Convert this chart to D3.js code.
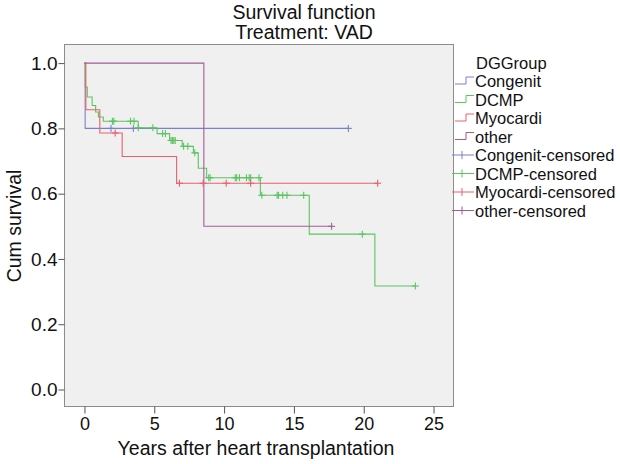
<!DOCTYPE html>
<html>
<head>
<meta charset="utf-8">
<script src="https://cdn.jsdelivr.net/npm/d3@7"></script>
<style>
  body { margin: 0; background: #fff; }
  text { font-family: "Liberation Sans", Arial, sans-serif; fill: #111; }
</style>
</head>
<body>
<div id="svg-area"></div>
<script>
var svgWidth = 620;
var svgHeight = 464;

// group names and colours
var groups = ["Congenit", "DCMP", "Myocardi", "other"];
var colors = ["#7880d2", "#5cc462", "#e8616a", "#a25b98"];

// event times and survival after each drop
var congenitTimes = [0.05];
var congenitSurv = [0.80];
var congenitCensor = [1.9, 3.5, 18.9];

var dcmpTimes = [0.05, 0.2, 0.55, 0.8, 1.0, 1.35, 3.85, 5.2, 6.1, 7.0, 7.8, 8.15, 8.75, 12.6, 16.1, 20.8];
var dcmpSurv = [0.927, 0.896, 0.870, 0.850, 0.835, 0.822, 0.802, 0.784, 0.763, 0.745, 0.725, 0.678, 0.649, 0.595, 0.476, 0.317];
var dcmpCensor = [2.0, 2.1, 3.3, 3.55, 3.85, 4.9, 5.6, 5.8, 6.2, 6.3, 6.4, 6.5, 7.1, 7.4, 7.9,
  8.9, 9.0, 10.8, 10.9, 11.1, 11.6, 11.8, 11.9, 12.5, 12.7, 13.8, 13.9, 14.2, 14.5, 15.7, 19.9, 23.7];

var myoTimes = [0.1, 1.1, 2.7, 6.6];
var myoSurv = [0.857, 0.786, 0.714, 0.632];
var myoCensor = [2.2, 6.8, 8.5, 10.15, 11.9, 21.0];

var otherTimes = [8.55];
var otherSurv = [0.50];
var otherCensor = [17.7];

var xTicks = [0, 5, 10, 15, 20, 25];
var yTicks = [0, 0.2, 0.4, 0.6, 0.8, 1.0];

var series = [
  {times: congenitTimes, surv: congenitSurv, censor: congenitCensor},
  {times: dcmpTimes, surv: dcmpSurv, censor: dcmpCensor},
  {times: myoTimes, surv: myoSurv, censor: myoCensor},
  {times: otherTimes, surv: otherSurv, censor: otherCensor}
];

var svg = d3.select("#svg-area")
  .append("svg")
  .attr("width", svgWidth)
  .attr("height", svgHeight);

var plot = {left: 64.5, right: 453.5, top: 44.5, bottom: 406.5};

var x = d3.scaleLinear().domain([-1.43, 26.43]).range([plot.left, plot.right]);
var y = d3.scaleLinear().domain([-0.052, 1.057]).range([plot.bottom, plot.top]);

// plot background
svg.append("rect")
  .attr("x", plot.left).attr("y", plot.top)
  .attr("width", plot.right - plot.left).attr("height", plot.bottom - plot.top)
  .attr("fill", "#f0f0f0").attr("stroke", "#8c8c8c").attr("stroke-width", 1);

// axes
var xAxis = svg.append("g")
  .attr("transform", "translate(0," + plot.bottom + ")")
  .call(d3.axisBottom(x).tickValues(xTicks).tickSize(7).tickSizeOuter(0).tickPadding(4));
var yAxis = svg.append("g")
  .attr("transform", "translate(" + plot.left + ",0)")
  .call(d3.axisLeft(y).tickValues(yTicks).tickFormat(d3.format(".1f")).tickSize(6).tickSizeOuter(0).tickPadding(1));
[xAxis, yAxis].forEach(function(a) {
  a.select(".domain").remove();
  a.selectAll("line").attr("stroke", "#555");
  a.selectAll("text").attr("fill", "#111");
});
xAxis.selectAll("text").style("font-size", "18px");
yAxis.selectAll("text").style("font-size", "19px");

// step value at time t
function survAt(s, t) {
  var v = 1;
  s.times.forEach(function(tt, i) { if (tt <= t) v = s.surv[i]; });
  return v;
}

var line = d3.line().x(function(d) { return x(d[0]); }).y(function(d) { return y(d[1]); })
  .curve(d3.curveStepAfter);

series.forEach(function(s, i) {
  var end = d3.max(s.times.concat(s.censor));
  var pts = [[0, 1]];
  s.times.forEach(function(t, j) { pts.push([t, s.surv[j]]); });
  pts.push([end, survAt(s, end)]);
  svg.append("path")
    .attr("d", line(pts))
    .attr("fill", "none")
    .attr("stroke", colors[i])
    .attr("stroke-width", 1.1);
});

series.forEach(function(s, i) {
  var g = svg.append("g").attr("stroke", colors[i]).attr("stroke-width", 1.1);
  s.censor.forEach(function(t) {
    var cx = x(t), cy = y(survAt(s, t));
    g.append("line").attr("x1", cx - 3.5).attr("x2", cx + 3.5).attr("y1", cy).attr("y2", cy);
    g.append("line").attr("x1", cx).attr("x2", cx).attr("y1", cy - 3.5).attr("y2", cy + 3.5);
  });
});

// titles
svg.append("text").attr("x", 304).attr("y", 19).attr("text-anchor", "middle")
  .style("font-size", "19.5px").text("Survival function");
svg.append("text").attr("x", 304).attr("y", 39).attr("text-anchor", "middle")
  .style("font-size", "19.5px").text("Treatment: VAD");
svg.append("text").attr("x", 256).attr("y", 455).attr("text-anchor", "middle")
  .style("font-size", "19.5px").text("Years after heart transplantation");
svg.append("text").attr("transform", "translate(21,226) rotate(-90)").attr("text-anchor", "middle")
  .style("font-size", "19.5px").text("Cum survival");

// legend
var legX = 475, legY = 62.5, legStep = 18.5;
svg.append("text").attr("x", legX + 1).attr("y", legY + 6).style("font-size", "16.5px").text("DGGroup");
groups.forEach(function(name, i) {
  var cy = legY + legStep * (i + 1);
  svg.append("path")
    .attr("d", "M455," + (cy + 3) + "H466V" + (cy - 4) + "H474")
    .attr("fill", "none").attr("stroke", colors[i]).attr("stroke-width", 1);
  svg.append("text").attr("x", legX).attr("y", cy + 6).style("font-size", "16.5px").text(name);
});
groups.forEach(function(name, i) {
  var cy = legY + legStep * (i + 5);
  var g = svg.append("g").attr("stroke", colors[i]).attr("stroke-width", 1);
  g.append("line").attr("x1", 452).attr("x2", 474).attr("y1", cy).attr("y2", cy);
  g.append("line").attr("x1", 462).attr("x2", 462).attr("y1", cy - 4).attr("y2", cy + 4);
  svg.append("text").attr("x", legX).attr("y", cy + 6).style("font-size", "16.5px").text(name + "-censored");
});
</script>
</body>
</html>
